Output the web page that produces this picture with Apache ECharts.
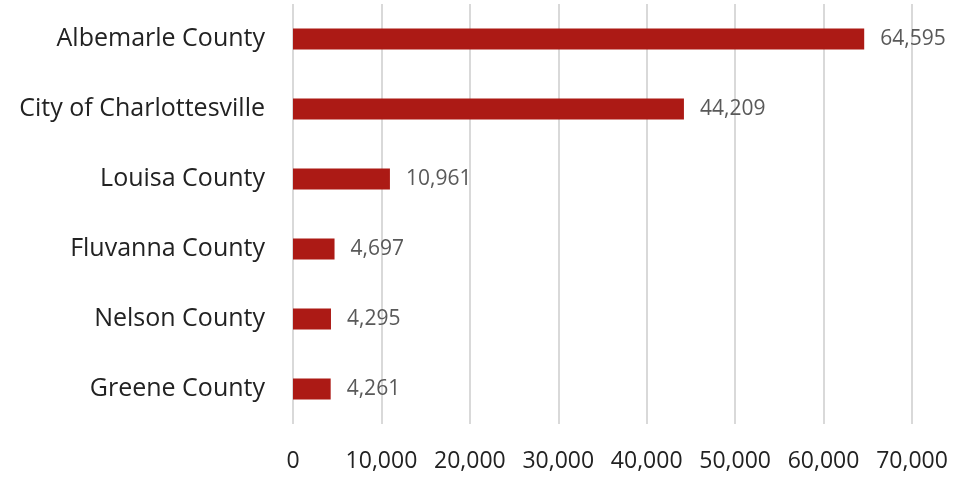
<!DOCTYPE html>
<html>
<head>
<meta charset="utf-8">
<script src="https://cdn.jsdelivr.net/npm/echarts@6/dist/echarts.min.js"></script>
<style>
  html, body { margin: 0; padding: 0; background: #fff; }
  #chart { width: 971px; height: 477px; }
</style>
</head>
<body>
<div id="chart"></div>
<script>
// localities, top to bottom
const localities = [
  'Albemarle County',
  'City of Charlottesville',
  'Louisa County',
  'Fluvanna County',
  'Nelson County',
  'Greene County'
];
const population = [64595, 44209, 10961, 4697, 4295, 4261];
const xTicks = [0, 10000, 20000, 30000, 40000, 50000, 60000, 70000];

const font = '"Open Sans", "Noto Sans", sans-serif';

let myChart = echarts.init(document.getElementById('chart'));
myChart.setOption({
  animation: false,
  grid: { left: 293, right: 59, top: 4, height: 420 },
  xAxis: {
    type: 'value',
    min: xTicks[0],
    max: xTicks[xTicks.length - 1],
    interval: 10000,
    axisLine: { show: false },
    axisTick: { show: false },
    axisLabel: {
      margin: 26,
      color: '#222',
      fontSize: 23,
      fontFamily: font,
      formatter: v => v.toLocaleString('en-US')
    },
    splitLine: { lineStyle: { color: '#d9d9d9', width: 2 } }
  },
  yAxis: {
    type: 'category',
    inverse: true,
    data: localities,
    axisLine: { show: false },
    axisTick: { show: false },
    axisLabel: {
      margin: 28,
      color: '#222',
      fontSize: 25,
      fontFamily: font
    }
  },
  series: [{
    type: 'bar',
    data: population,
    barWidth: 21,
    itemStyle: { color: '#ac1a15' },
    label: {
      show: true,
      position: 'right',
      distance: 16,
      color: '#595959',
      fontSize: 21,
      fontFamily: font,
      formatter: p => p.value.toLocaleString('en-US')
    }
  }]
});
</script>
</body>
</html>
